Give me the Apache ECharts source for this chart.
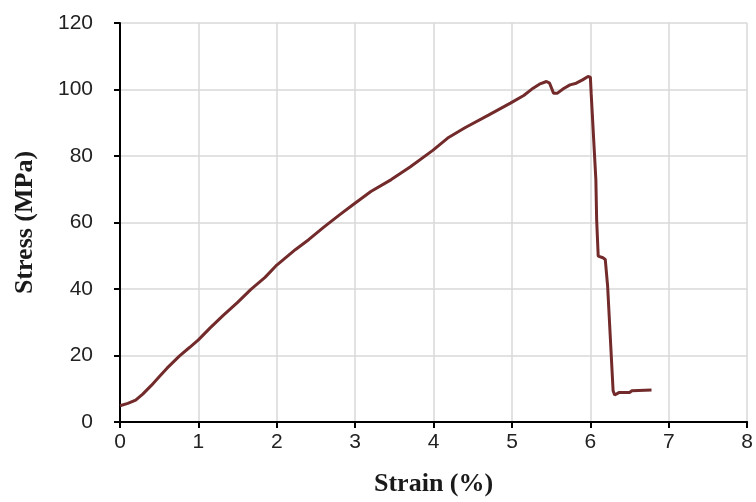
<!DOCTYPE html>
<html><head><meta charset="utf-8">
<script src="https://cdn.jsdelivr.net/npm/echarts@6/dist/echarts.min.js"></script>
<style>html,body{margin:0;padding:0;background:#fff;}#c{width:756px;height:502px;}</style>
</head><body><div id="c"></div>
<script>
const strain = [0,0.1,0.2,0.29,0.4,0.5,0.6,0.76,0.886,1.0,1.15,1.31,1.5,1.67,1.85,2.0,2.24,2.41,2.6,2.8,2.98,3.2,3.46,3.7,3.99,4.18,4.4,4.7,4.98,5.15,5.27,5.35,5.44,5.48,5.53,5.58,5.66,5.74,5.82,5.9,5.97,6.0,6.01,6.07,6.08,6.10,6.16,6.19,6.22,6.29,6.31,6.37,6.5,6.53,6.78];
const stress = [4.9,5.6,6.6,8.4,11,13.6,16.2,19.9,22.4,24.7,28.3,31.9,36,39.9,43.5,47.2,51.9,54.9,58.6,62.3,65.5,69.3,72.9,76.7,81.7,85.4,88.5,92.3,95.9,98.2,100.4,101.6,102.4,101.9,98.9,98.9,100.3,101.4,101.9,102.9,103.9,103.7,98.9,72.9,60.9,49.9,49.4,48.9,40.9,9.4,8.1,8.9,8.9,9.4,9.6];
const xTitle = 'Strain (%)';
const yTitle = 'Stress (MPa)';
const data = strain.map((x,i)=>[x,stress[i]]);
const chart = echarts.init(document.getElementById('c'));
chart.setOption({
  animation:false,
  grid:{left:120,right:4,top:23,bottom:79},
  xAxis:{type:'value',min:0,max:8,interval:1,
    name:xTitle,nameLocation:'middle',nameGap:49,
    nameTextStyle:{fontFamily:'Liberation Serif',fontWeight:'bold',fontSize:26,color:'#1a1a1a'},
    axisLine:{show:true,lineStyle:{color:'#000',width:2}},
    axisTick:{show:true,inside:false,length:6,lineStyle:{color:'#000',width:2}},
    axisLabel:{fontFamily:'Liberation Sans',fontSize:21,color:'#222',margin:10},
    splitLine:{show:true,lineStyle:{color:'#d9d9d9',width:1.5}}},
  yAxis:{type:'value',min:0,max:120,interval:20,
    name:yTitle,nameLocation:'middle',nameGap:82,nameRotate:90,
    nameTextStyle:{fontFamily:'Liberation Serif',fontWeight:'bold',fontSize:26,color:'#1a1a1a'},
    axisLine:{show:true,lineStyle:{color:'#000',width:2}},
    axisTick:{show:true,inside:false,length:6,lineStyle:{color:'#000',width:2}},
    axisLabel:{fontFamily:'Liberation Sans',fontSize:21,color:'#222',margin:27},
    splitLine:{show:true,lineStyle:{color:'#d9d9d9',width:1.5}}},
  series:[{type:'line',data:data,showSymbol:false,symbol:'none',
    lineStyle:{color:'#722a2a',width:3},z:5}]
});
</script></body></html>
